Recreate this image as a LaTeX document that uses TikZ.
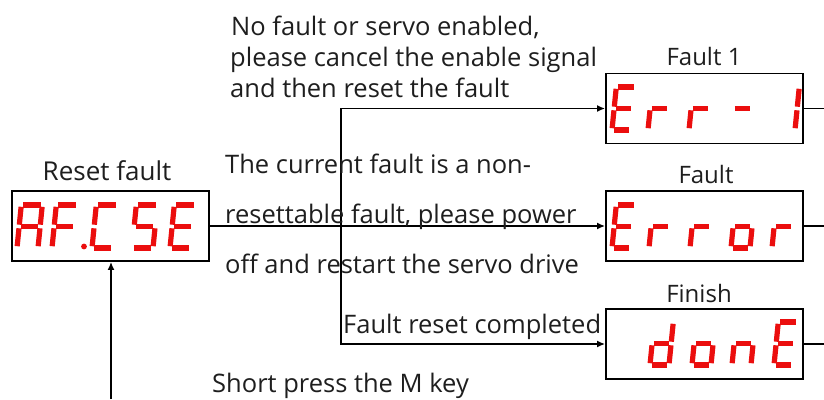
\documentclass[tikz,border=0pt]{standalone}
\usepackage{fontspec}
\setmainfont{Open Sans}
\usetikzlibrary{arrows.meta}
\definecolor{segred}{RGB}{235,14,14}
\definecolor{txt}{RGB}{30,30,30}
\newcommand\dW{19}
\newcommand\dH{43}
\newcommand\dG{1.8}
\newcommand\SegA{\draw[seg] (\dG,-\dH)--(\dW-\dG,-\dH);}
\newcommand\SegB{\draw[seg] (\dW,-\dH+\dG)--(\dW,-\dH/2-\dG);}
\newcommand\SegC{\draw[seg] (\dW,-\dH/2+\dG)--(\dW,-\dG);}
\newcommand\SegD{\draw[seg] (\dG,0)--(\dW-\dG,0);}
\newcommand\SegE{\draw[seg] (0,-\dH/2+\dG)--(0,-\dG);}
\newcommand\SegF{\draw[seg] (0,-\dH+\dG)--(0,-\dH/2-\dG);}
\newcommand\SegG{\draw[seg] (\dG,-\dH/2)--(\dW-\dG,-\dH/2);}
\newcommand\SevenSeg[3]{%
  \begin{scope}[shift={(#1,#2)},xslant=0.1]
    \foreach \s in {#3}{\csname Seg\s\endcsname}
  \end{scope}}
\tikzset{
  seg/.style={segred,line width=5.2pt,line cap=butt},
  dispbox/.style={draw=black,line width=1.8pt,minimum width=197pt,minimum height=70pt,inner sep=0pt},
  conn/.style={draw=black,line width=1.6pt},
  arr/.style={conn,-{Latex[length=8pt,width=7pt]}},
  bodytext/.style={text=txt,font=\fontsize{25.5}{30}\selectfont,anchor=base west,inner sep=0pt},
  labeltext/.style={text=txt,font=\fontsize{24}{28}\selectfont,anchor=base,inner sep=0pt}
}
\begin{document}
\begin{tikzpicture}[x=1pt,y=-1pt]
\useasboundingbox (0,0) rectangle (824,399);
% boxes
\node[dispbox] (reset) at (110.5,226) {};
\node[dispbox] (err1) at (704.5,108.5) {};
\node[dispbox] (error) at (704.5,226) {};
\node[dispbox] (done) at (704.5,344) {};
% labels above boxes
\node[labeltext,font=\fontsize{26}{30}\selectfont] (lreset) at (107,180) {Reset fault};
\node[labeltext] (lerr1) at (704,65) {Fault 1};
\node[labeltext] (lerror) at (706,183) {Fault};
\node[labeltext] (ldone) at (699,302) {Finish};
% seven segment displays
\renewcommand\dW{21}
\SevenSeg{17}{248}{A,B,C,E,F,G}
\SevenSeg{52}{248}{A,E,F,G}
\fill[segred] (84,246.5) circle (2.9);
\SevenSeg{92}{248}{A,D,E,F}
\SevenSeg{132}{248}{A,C,D,F,G}
\SevenSeg{170}{248}{A,D,E,F,G}
\renewcommand\dW{19}
\SevenSeg{612}{130}{A,D,E,F,G}
\SevenSeg{648}{130}{E,G}
\SevenSeg{689}{130}{E,G}
\SevenSeg{731}{130}{G}
\SevenSeg{776}{130}{B,C}
\SevenSeg{612}{248}{A,D,E,F,G}
\SevenSeg{649}{248}{E,G}
\SevenSeg{690}{248}{E,G}
\SevenSeg{731}{248}{C,D,E,G}
\SevenSeg{772}{248}{E,G}
\SevenSeg{650}{365}{B,C,D,E,G}
\SevenSeg{692}{365}{C,D,E,G}
\SevenSeg{732}{365}{C,E,G}
\SevenSeg{774}{365}{A,D,E,F,G}
% connectors
\coordinate (jn) at (341,226);
\coordinate (bot) at (111,399);
\coordinate (o1) at (824,108.5);
\coordinate (o2) at (824,226);
\coordinate (o3) at (824,344);
\draw[arr] (reset.east) -- (error.west);
\draw[arr] (jn) |- (err1.west);
\draw[arr] (jn) |- (done.west);
\draw[arr] (bot) -- (reset.south -| bot);
\draw[conn] (err1.east) -- (o1);
\draw[conn] (error.east) -- (o2);
\draw[conn] (done.east) -- (o3);
% texts
\node[bodytext] (t1) at (231,35) {No fault or servo enabled,};
\node[bodytext] (t2) at (230,66) {please cancel the enable signal};
\node[bodytext] (t3) at (230,97) {and then reset the fault};
\node[bodytext] (t4) at (225,173) {The current fault is a non-};
\node[bodytext] (t5) at (225,223) {resettable fault, please power};
\node[bodytext] (t6) at (225,273) {off and restart the servo drive};
\node[bodytext] (t7) at (343,333) {Fault reset completed};
\node[bodytext] (t8) at (212,392) {Short press the M key};
\end{tikzpicture}
\end{document}
